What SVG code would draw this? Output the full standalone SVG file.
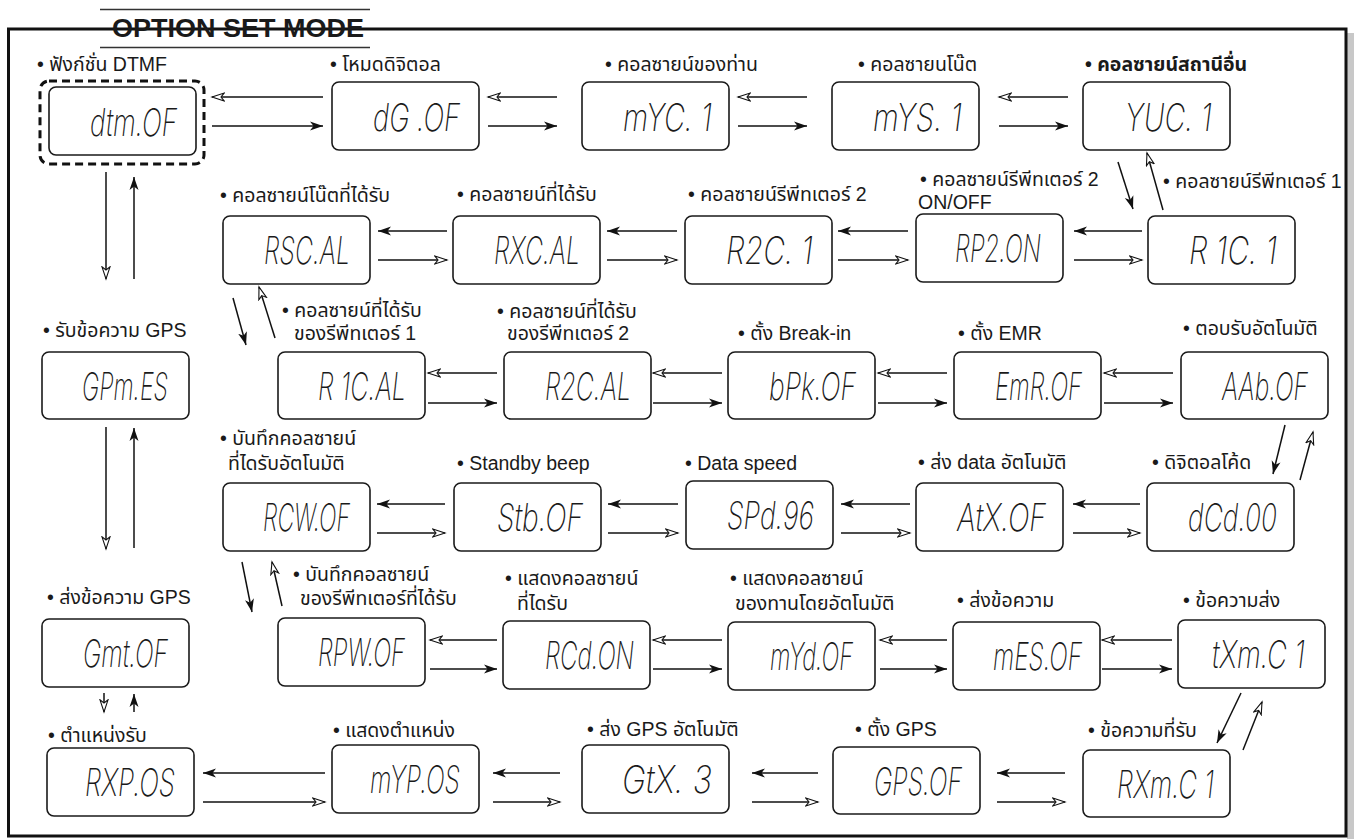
<svg xmlns="http://www.w3.org/2000/svg" width="1354" height="839" viewBox="0 0 1354 839">
<style>
.box{fill:#fff;stroke:#1a1a1a;stroke-width:1.6}
.lcd{font-family:Inter,"Liberation Sans",Arial,sans-serif;font-style:italic;font-weight:200;font-size:38px;fill:#1a1a1a}
.lbl{font-family:"Liberation Sans","Noto Sans Thai","Noto Sans Thai Looped",Loma,Garuda,"Noto Sans",sans-serif;font-size:19.5px;fill:#1a1a1a}
.b{font-weight:bold}
.con line{stroke:#111;stroke-width:1.5;fill:none}
.f{marker-end:url(#af)}
.h{marker-end:url(#ah)}
</style>
<defs>
<marker id="af" markerUnits="userSpaceOnUse" markerWidth="16" markerHeight="12" refX="13" refY="5" orient="auto" viewBox="0 0 16 12">
<path d="M0,0.5 L13,5 L0,9.5 L3.5,5 Z" fill="#111"/>
</marker>
<marker id="ah" markerUnits="userSpaceOnUse" markerWidth="16" markerHeight="12" refX="13" refY="5" orient="auto" viewBox="0 0 16 12">
<path d="M0.8,1 L13,5 L0.8,9 L4,5 Z" fill="#fff" stroke="#111" stroke-width="1.1" stroke-linejoin="miter"/>
</marker>
</defs>
<rect width="1354" height="839" fill="#fff"/>
<rect x="1347" y="33" width="7" height="806" fill="#c8c8c8"/>
<g id="frame">
<path d="M8.5,29 H1346 V836 H8.5 Z" fill="none" stroke="#111" stroke-width="3"/>
<line x1="100" y1="9.5" x2="370" y2="9.5" stroke="#333" stroke-width="1.5"/>
<line x1="100" y1="47.5" x2="370" y2="47.5" stroke="#333" stroke-width="1.5"/>
<text x="112" y="37" font-family="'Liberation Sans',Arial,sans-serif" font-weight="bold" font-size="26" textLength="252" lengthAdjust="spacingAndGlyphs" fill="#1a1a1a">OPTION SET MODE</text>
</g>
<g id="n_dtm">
<rect x="40" y="81" width="164" height="83" rx="9" fill="none" stroke="#111" stroke-width="3" stroke-dasharray="8 5"/>
<rect class="box" x="49" y="87" width="147" height="68" rx="7"/>
<text class="lcd" x="90" y="136" textLength="87" lengthAdjust="spacingAndGlyphs">dtm.OF</text>
<text class="lbl" x="37" y="71">• ฟังก์ชั่น DTMF</text>
</g>
<g id="n_dg">
<rect class="box" x="332" y="82" width="147" height="68" rx="7"/>
<text class="lcd" x="373" y="131" textLength="87" lengthAdjust="spacingAndGlyphs">dG .OF</text>
<text class="lbl" x="330" y="71">• โหมดดิจิตอล</text>
</g>
<g id="n_myc">
<rect class="box" x="582" y="82" width="147" height="68" rx="7"/>
<text class="lcd" x="623" y="131" textLength="89" lengthAdjust="spacingAndGlyphs">mYC. 1</text>
<text class="lbl" x="605" y="71">• คอลซายน์ของท่าน</text>
</g>
<g id="n_mys">
<rect class="box" x="832" y="82" width="147" height="68" rx="7"/>
<text class="lcd" x="873" y="131" textLength="89" lengthAdjust="spacingAndGlyphs">mYS. 1</text>
<text class="lbl" x="858" y="71">• คอลซายนโน๊ต</text>
</g>
<g id="n_yuc">
<rect class="box" x="1083" y="82" width="147" height="68" rx="7"/>
<text class="lcd" x="1125" y="131" textLength="87" lengthAdjust="spacingAndGlyphs">YUC. 1</text>
<text class="lbl b" x="1085" y="71">• คอลซายน์สถานีอื่น</text>
</g>
<g id="n_rscal">
<rect class="box" x="223" y="216" width="147" height="68" rx="7"/>
<text class="lcd" x="264" y="264" textLength="86" lengthAdjust="spacingAndGlyphs">RSC.AL</text>
<text class="lbl" x="220" y="202">• คอลซายน์โน๊ตที่ได้รับ</text>
</g>
<g id="n_rxcal">
<rect class="box" x="453" y="216" width="147" height="68" rx="7"/>
<text class="lcd" x="494" y="264" textLength="86" lengthAdjust="spacingAndGlyphs">RXC.AL</text>
<text class="lbl" x="457" y="201">• คอลซายน์ที่ได้รับ</text>
</g>
<g id="n_r2c">
<rect class="box" x="685" y="216" width="147" height="68" rx="7"/>
<text class="lcd" x="726" y="264" textLength="87" lengthAdjust="spacingAndGlyphs">R2C. 1</text>
<text class="lbl" x="688" y="201">• คอลซายน์รีพีทเตอร์ 2</text>
</g>
<g id="n_rp2">
<rect class="box" x="916" y="214" width="147" height="68" rx="7"/>
<text class="lcd" x="955" y="262" textLength="86" lengthAdjust="spacingAndGlyphs">RP2.ON</text>
<text class="lbl" x="920" y="186">• คอลซายน์รีพีทเตอร์ 2</text>
<text class="lbl" x="918" y="209">ON/OFF</text>
</g>
<g id="n_r1c">
<rect class="box" x="1148" y="216" width="147" height="68" rx="7"/>
<text class="lcd" x="1189" y="264" textLength="88" lengthAdjust="spacingAndGlyphs">R 1C. 1</text>
<text class="lbl" x="1163" y="188">• คอลซายน์รีพีทเตอร์ 1</text>
</g>
<g id="n_gpmes">
<rect class="box" x="42" y="352" width="147" height="67" rx="7"/>
<text class="lcd" x="82" y="400" textLength="86" lengthAdjust="spacingAndGlyphs">GPm.ES</text>
<text class="lbl" x="43" y="337">• รับข้อความ GPS</text>
</g>
<g id="n_r1cal">
<rect class="box" x="278" y="352" width="147" height="67" rx="7"/>
<text class="lcd" x="318" y="400" textLength="88" lengthAdjust="spacingAndGlyphs">R 1C.AL</text>
<text class="lbl" x="282" y="317">• คอลซายน์ที่ได้รับ</text>
<text class="lbl" x="294" y="340">ของรีพีทเตอร์ 1</text>
</g>
<g id="n_r2cal">
<rect class="box" x="504" y="352" width="147" height="67" rx="7"/>
<text class="lcd" x="545" y="400" textLength="86" lengthAdjust="spacingAndGlyphs">R2C.AL</text>
<text class="lbl" x="497" y="318">• คอลซายน์ที่ได้รับ</text>
<text class="lbl" x="507" y="340">ของรีพีทเตอร์ 2</text>
</g>
<g id="n_bpk">
<rect class="box" x="728" y="352" width="147" height="67" rx="7"/>
<text class="lcd" x="769" y="400" textLength="87" lengthAdjust="spacingAndGlyphs">bPk.OF</text>
<text class="lbl" x="738" y="340">• ตั้ง Break-in</text>
</g>
<g id="n_emr">
<rect class="box" x="954" y="352" width="147" height="67" rx="7"/>
<text class="lcd" x="995" y="400" textLength="87" lengthAdjust="spacingAndGlyphs">EmR.OF</text>
<text class="lbl" x="958" y="340">• ตั้ง EMR</text>
</g>
<g id="n_aab">
<rect class="box" x="1181" y="352" width="147" height="67" rx="7"/>
<text class="lcd" x="1222" y="400" textLength="86" lengthAdjust="spacingAndGlyphs">AAb.OF</text>
<text class="lbl" x="1183" y="335">• ตอบรับอัตโนมัติ</text>
</g>
<g id="n_rcw">
<rect class="box" x="223" y="483" width="147" height="68" rx="7"/>
<text class="lcd" x="263" y="531" textLength="87" lengthAdjust="spacingAndGlyphs">RCW.OF</text>
<text class="lbl" x="220" y="445">• บันทึกคอลซายน์</text>
<text class="lbl" x="228" y="470">ที่ไดรับอัตโนมัติ</text>
</g>
<g id="n_stb">
<rect class="box" x="454" y="483" width="147" height="68" rx="7"/>
<text class="lcd" x="497" y="531" textLength="86" lengthAdjust="spacingAndGlyphs">Stb.OF</text>
<text class="lbl" x="457" y="470">• Standby beep</text>
</g>
<g id="n_spd">
<rect class="box" x="686" y="481" width="147" height="68" rx="7"/>
<text class="lcd" x="727" y="529" textLength="87" lengthAdjust="spacingAndGlyphs">SPd.96</text>
<text class="lbl" x="685" y="470">• Data speed</text>
</g>
<g id="n_atx">
<rect class="box" x="916" y="483" width="147" height="68" rx="7"/>
<text class="lcd" x="957" y="531" textLength="89" lengthAdjust="spacingAndGlyphs">AtX.OF</text>
<text class="lbl" x="918" y="469">• ส่ง data อัตโนมัติ</text>
</g>
<g id="n_dcd">
<rect class="box" x="1147" y="483" width="147" height="68" rx="7"/>
<text class="lcd" x="1188" y="531" textLength="89" lengthAdjust="spacingAndGlyphs">dCd.00</text>
<text class="lbl" x="1152" y="469">• ดิจิตอลโค้ด</text>
</g>
<g id="n_gmt">
<rect class="box" x="42" y="619" width="147" height="68" rx="7"/>
<text class="lcd" x="83" y="667" textLength="85" lengthAdjust="spacingAndGlyphs">Gmt.OF</text>
<text class="lbl" x="47" y="604">• ส่งข้อความ GPS</text>
</g>
<g id="n_rpw">
<rect class="box" x="278" y="618" width="147" height="68" rx="7"/>
<text class="lcd" x="318" y="666" textLength="87" lengthAdjust="spacingAndGlyphs">RPW.OF</text>
<text class="lbl" x="293" y="581">• บันทึกคอลซายน์</text>
<text class="lbl" x="300" y="605">ของรีพีทเตอร์ที่ได้รับ</text>
</g>
<g id="n_rcd">
<rect class="box" x="503" y="621" width="147" height="68" rx="7"/>
<text class="lcd" x="545" y="669" textLength="89" lengthAdjust="spacingAndGlyphs">RCd.ON</text>
<text class="lbl" x="505" y="585">• แสดงคอลซายน์</text>
<text class="lbl" x="517" y="610">ที่ไดรับ</text>
</g>
<g id="n_myd">
<rect class="box" x="728" y="622" width="147" height="68" rx="7"/>
<text class="lcd" x="770" y="670" textLength="83" lengthAdjust="spacingAndGlyphs">mYd.OF</text>
<text class="lbl" x="730" y="585">• แสดงคอลซายน์</text>
<text class="lbl" x="735" y="610">ของทานโดยอัตโนมัติ</text>
</g>
<g id="n_mes">
<rect class="box" x="953" y="622" width="147" height="68" rx="7"/>
<text class="lcd" x="993" y="670" textLength="89" lengthAdjust="spacingAndGlyphs">mES.OF</text>
<text class="lbl" x="957" y="607">• ส่งข้อความ</text>
</g>
<g id="n_txm">
<rect class="box" x="1178" y="620" width="147" height="68" rx="7"/>
<text class="lcd" x="1212" y="668" textLength="93" lengthAdjust="spacingAndGlyphs">tXm.C 1</text>
<text class="lbl" x="1183" y="607">• ข้อความส่ง</text>
</g>
<g id="n_rxp">
<rect class="box" x="47" y="748" width="147" height="68" rx="7"/>
<text class="lcd" x="85" y="796" textLength="90" lengthAdjust="spacingAndGlyphs">RXP.OS</text>
<text class="lbl" x="48" y="742">• ตำแหน่งรับ</text>
</g>
<g id="n_myp">
<rect class="box" x="332" y="745" width="147" height="68" rx="7"/>
<text class="lcd" x="370" y="793" textLength="90" lengthAdjust="spacingAndGlyphs">mYP.OS</text>
<text class="lbl" x="333" y="737">• แสดงตำแหน่ง</text>
</g>
<g id="n_gtx">
<rect class="box" x="582" y="745" width="147" height="68" rx="7"/>
<text class="lcd" x="622" y="793" textLength="90" lengthAdjust="spacingAndGlyphs">GtX. 3</text>
<text class="lbl" x="587" y="736">• ส่ง GPS อัตโนมัติ</text>
</g>
<g id="n_gps">
<rect class="box" x="833" y="747" width="147" height="67" rx="7"/>
<text class="lcd" x="874" y="795" textLength="88" lengthAdjust="spacingAndGlyphs">GPS.OF</text>
<text class="lbl" x="855" y="736">• ตั้ง GPS</text>
</g>
<g id="n_rxm">
<rect class="box" x="1083" y="750" width="147" height="67" rx="7"/>
<text class="lcd" x="1117" y="798" textLength="97" lengthAdjust="spacingAndGlyphs">RXm.C 1</text>
<text class="lbl" x="1088" y="737">• ข้อความที่รับ</text>
</g>
<g id="connectors" class="con">
<line class="h" x1="323" y1="97" x2="212" y2="97"/>
<line class="f" x1="212" y1="126" x2="323" y2="126"/>
<line class="h" x1="557" y1="97" x2="488" y2="97"/>
<line class="f" x1="488" y1="126" x2="557" y2="126"/>
<line class="h" x1="807" y1="97" x2="738" y2="97"/>
<line class="f" x1="738" y1="126" x2="807" y2="126"/>
<line class="h" x1="1068" y1="97" x2="999" y2="97"/>
<line class="f" x1="999" y1="126" x2="1068" y2="126"/>
<line class="f" x1="447" y1="231" x2="378" y2="231"/>
<line class="h" x1="378" y1="260" x2="447" y2="260"/>
<line class="f" x1="677" y1="231" x2="607" y2="231"/>
<line class="h" x1="607" y1="260" x2="677" y2="260"/>
<line class="f" x1="908" y1="231" x2="838" y2="231"/>
<line class="h" x1="838" y1="260" x2="908" y2="260"/>
<line class="f" x1="1142" y1="231" x2="1074" y2="231"/>
<line class="h" x1="1074" y1="260" x2="1142" y2="260"/>
<line class="h" x1="497" y1="373" x2="428" y2="373"/>
<line class="f" x1="428" y1="403" x2="497" y2="403"/>
<line class="h" x1="722" y1="373" x2="653" y2="373"/>
<line class="f" x1="653" y1="403" x2="722" y2="403"/>
<line class="h" x1="947" y1="373" x2="878" y2="373"/>
<line class="f" x1="878" y1="403" x2="947" y2="403"/>
<line class="h" x1="1173" y1="373" x2="1104" y2="373"/>
<line class="f" x1="1104" y1="403" x2="1173" y2="403"/>
<line class="f" x1="445" y1="504" x2="377" y2="504"/>
<line class="h" x1="377" y1="533" x2="445" y2="533"/>
<line class="f" x1="678" y1="504" x2="608" y2="504"/>
<line class="h" x1="608" y1="533" x2="678" y2="533"/>
<line class="f" x1="910" y1="504" x2="841" y2="504"/>
<line class="h" x1="841" y1="533" x2="910" y2="533"/>
<line class="f" x1="1140" y1="504" x2="1073" y2="504"/>
<line class="h" x1="1073" y1="533" x2="1140" y2="533"/>
<line class="h" x1="497" y1="640" x2="430" y2="640"/>
<line class="f" x1="430" y1="669" x2="497" y2="669"/>
<line class="h" x1="722" y1="640" x2="653" y2="640"/>
<line class="f" x1="653" y1="669" x2="722" y2="669"/>
<line class="h" x1="947" y1="640" x2="880" y2="640"/>
<line class="f" x1="880" y1="669" x2="947" y2="669"/>
<line class="h" x1="1172" y1="640" x2="1102" y2="640"/>
<line class="f" x1="1102" y1="669" x2="1172" y2="669"/>
<line class="f" x1="325" y1="773" x2="203" y2="773"/>
<line class="h" x1="203" y1="802" x2="325" y2="802"/>
<line class="f" x1="560" y1="773" x2="493" y2="773"/>
<line class="h" x1="493" y1="802" x2="560" y2="802"/>
<line class="f" x1="818" y1="773" x2="752" y2="773"/>
<line class="h" x1="752" y1="802" x2="818" y2="802"/>
<line class="f" x1="1065" y1="773" x2="997" y2="773"/>
<line class="h" x1="997" y1="802" x2="1065" y2="802"/>
<line class="h" x1="106" y1="172" x2="106" y2="279"/>
<line class="f" x1="134" y1="279" x2="134" y2="177"/>
<line class="h" x1="106" y1="427" x2="106" y2="549"/>
<line class="f" x1="134" y1="548" x2="134" y2="428"/>
<line class="h" x1="104" y1="693" x2="104" y2="712"/>
<line class="f" x1="134" y1="712" x2="134" y2="694"/>
<line class="f" x1="1118" y1="162" x2="1133" y2="209"/>
<line class="h" x1="1163" y1="210" x2="1147" y2="153"/>
<line class="f" x1="233" y1="298" x2="246" y2="345"/>
<line class="h" x1="275" y1="338" x2="259" y2="287"/>
<line class="f" x1="1285" y1="425" x2="1273" y2="474"/>
<line class="h" x1="1300" y1="480" x2="1313" y2="432"/>
<line class="f" x1="242" y1="562" x2="252" y2="612"/>
<line class="h" x1="282" y1="606" x2="272" y2="562"/>
<line class="f" x1="1241" y1="693" x2="1217" y2="743"/>
<line class="h" x1="1243" y1="750" x2="1262" y2="702"/>
</g>
</svg>
